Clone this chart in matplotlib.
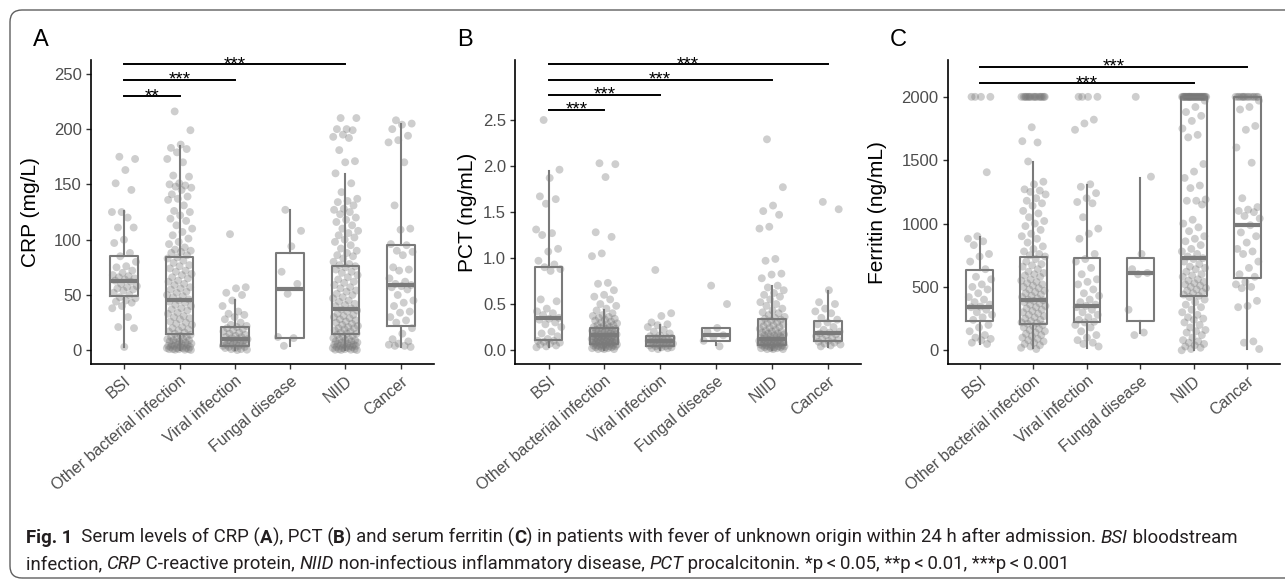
import numpy as np
import matplotlib
matplotlib.use("Agg")
import matplotlib.pyplot as plt
from matplotlib.patches import FancyBboxPatch
from matplotlib.transforms import IdentityTransform

plt.rcParams['font.family'] = ['Liberation Sans', 'DejaVu Sans']

groups = ["BSI", "Other bacterial infection", "Viral infection",
          "Fungal disease", "NIID", "Cancer"]

# ---- CRP (mg/L) ----
crp_bsi = [175, 173, 163, 151, 145, 125, 125, 120, 111, 111, 100, 97, 88, 85, 80, 76,
           75, 72, 70, 68, 67, 66, 65, 64, 63, 62, 60, 58, 57, 56, 55, 54, 52, 50, 48,
           47, 45, 44, 43, 40, 38, 30, 21, 20, 3]
crp_other = [216, 199, 186, 183, 182, 179, 173, 170, 158, 157, 151, 150, 149, 148, 147,
             145, 141, 139, 137, 136, 131, 126, 125, 122, 119, 117, 113, 110, 107, 104,
             101, 98, 96, 93, 91, 90, 89, 88, 86, 84, 83, 81, 79, 77, 76, 74, 72, 71, 69,
             68, 66, 65, 63, 62, 60, 59, 57, 56, 55, 53, 52, 50, 49, 48, 46, 45, 44, 43,
             41, 40, 38, 37, 36, 34, 33, 31, 30, 29, 28, 26, 25, 24, 23, 21, 20, 19, 18,
             17, 16, 15, 14, 13, 12, 12, 11, 10, 10, 9, 9, 8, 8, 7, 7, 6, 6, 5, 5, 5, 4, 4,
             4, 3, 3, 3, 2, 2, 2, 2, 1, 1, 1, 1, 0.5, 0.5, 0.3]
crp_viral = [105, 57, 56, 52, 50, 45, 40, 35, 33, 32, 30, 28, 25, 23, 22, 21, 20, 19, 18,
             17, 16, 15, 14, 13, 12, 12, 11, 10, 10, 9, 9, 8, 8, 7, 7, 6, 6, 5, 5, 5, 4, 4,
             3, 3, 2, 2, 1, 1, 0.5, 0.2]
crp_fungal = [127, 108, 94, 71, 60, 51, 12, 11, 4]
crp_niid = [210, 210, 200, 200, 199, 195, 193, 192, 181, 171, 170, 160, 151, 143, 137,
            135, 134, 131, 128, 127, 125, 123, 120, 118, 116, 113, 110, 108, 106, 104,
            102, 100, 98, 95, 92, 90, 88, 86, 85, 83, 80, 78, 77, 76, 75, 73, 71, 70, 68,
            66, 64, 62, 61, 59, 57, 56, 54, 53, 51, 50, 48, 47, 45, 44, 42, 41, 40, 38,
            37, 36, 35, 33, 32, 31, 30, 29, 28, 27, 26, 25, 24, 23, 22, 21, 20, 20, 19,
            18, 17, 16, 15, 15, 14, 13, 12, 11, 10, 10, 9, 9, 8, 8, 7, 7, 6, 6, 5, 5, 5,
            4, 4, 4, 3, 3, 3, 2, 2, 2, 1, 1, 1, 0.5, 0.5, 0.3, 0.2]
crp_cancer = [208, 205, 204, 200, 194, 190, 188, 170, 131, 110, 109, 96, 95, 90, 89, 86,
              75, 73, 72, 65, 62, 60, 59, 58, 57, 55, 50, 45, 43, 40, 35, 34, 30, 27, 25,
              20, 15, 10, 8, 6, 5, 4, 4, 3]
crp_q1 = [49, 14.4, 4, 10.8, 14.7, 22.2]
crp_med = [63, 45, 10, 55.6, 37.2, 59.2]
crp_q3 = [85, 84, 21, 88, 76, 95.4]
crp_lo = [3, 0, 0, 4, 0, 3]
crp_hi = [125.5, 185, 45.4, 127, 159.5, 205]

# ---- PCT (ng/mL) ----
pct_bsi = [2.50, 1.96, 1.87, 1.67, 1.64, 1.59, 1.31, 1.27, 1.25, 1.10, 1.07, 0.97, 0.93,
           0.90, 0.88, 0.86, 0.55, 0.53, 0.45, 0.42, 0.40, 0.38, 0.35, 0.34, 0.33, 0.30,
           0.28, 0.25, 0.20, 0.18, 0.15, 0.12, 0.10, 0.10, 0.09, 0.08, 0.07, 0.06, 0.05,
           0.04, 0.03]
pct_other = [2.03, 2.02, 1.88, 1.28, 1.23, 1.05, 1.02, 0.73, 0.72, 0.65, 0.60, 0.58, 0.55,
             0.50, 0.48, 0.45, 0.43, 0.40, 0.38, 0.37, 0.36, 0.35, 0.34, 0.33, 0.32, 0.31,
             0.30, 0.29, 0.28, 0.27, 0.27, 0.26, 0.25, 0.25, 0.24, 0.23, 0.23, 0.22, 0.22,
             0.21, 0.21, 0.20, 0.20, 0.19, 0.19, 0.18, 0.18, 0.17, 0.17, 0.16, 0.16, 0.16,
             0.15, 0.15, 0.15, 0.14, 0.14, 0.14, 0.13, 0.13, 0.13, 0.12, 0.12, 0.12, 0.11,
             0.11, 0.11, 0.10, 0.10, 0.10, 0.10, 0.09, 0.09, 0.09, 0.08, 0.08, 0.08, 0.08,
             0.07, 0.07, 0.07, 0.06, 0.06, 0.06, 0.05, 0.05, 0.05, 0.05, 0.04, 0.04, 0.04,
             0.03, 0.03, 0.03, 0.02, 0.02, 0.02, 0.01, 0.01, 0.01]
pct_viral = [0.87, 0.40, 0.37, 0.30, 0.28, 0.27, 0.25, 0.22, 0.20, 0.18, 0.16, 0.15, 0.14,
             0.13, 0.13, 0.12, 0.12, 0.11, 0.11, 0.10, 0.10, 0.10, 0.09, 0.09, 0.08, 0.08,
             0.07, 0.07, 0.06, 0.06, 0.05, 0.05, 0.05, 0.04, 0.04, 0.03, 0.03, 0.02, 0.02,
             0.01]
pct_fungal = [0.70, 0.50, 0.24, 0.20, 0.16, 0.14, 0.10, 0.04]
pct_niid = [2.29, 1.77, 1.57, 1.51, 1.47, 1.34, 1.32, 0.99, 0.97, 0.83, 0.82, 0.78, 0.70,
            0.68, 0.65, 0.62, 0.60, 0.58, 0.55, 0.52, 0.50, 0.48, 0.45, 0.43, 0.41, 0.40,
            0.38, 0.36, 0.35, 0.34, 0.33, 0.32, 0.31, 0.30, 0.29, 0.28, 0.27, 0.26, 0.25,
            0.24, 0.23, 0.22, 0.21, 0.20, 0.20, 0.19, 0.18, 0.18, 0.17, 0.16, 0.16, 0.15,
            0.15, 0.14, 0.14, 0.13, 0.13, 0.12, 0.12, 0.11, 0.11, 0.10, 0.10, 0.10, 0.09,
            0.09, 0.09, 0.08, 0.08, 0.08, 0.07, 0.07, 0.07, 0.06, 0.06, 0.06, 0.05, 0.05,
            0.05, 0.05, 0.04, 0.04, 0.04, 0.03, 0.03, 0.03, 0.02, 0.02, 0.02, 0.01, 0.01,
            0.01]
pct_cancer = [1.61, 1.53, 0.65, 0.52, 0.50, 0.45, 0.42, 0.40, 0.35, 0.33, 0.30, 0.28, 0.25,
              0.22, 0.20, 0.19, 0.18, 0.17, 0.16, 0.15, 0.13, 0.12, 0.11, 0.10, 0.09, 0.08,
              0.07, 0.06, 0.05, 0.04]
pct_q1 = [0.105, 0.07, 0.045, 0.10, 0.05, 0.10]
pct_med = [0.345, 0.16, 0.10, 0.16, 0.12, 0.19]
pct_q3 = [0.905, 0.24, 0.15, 0.24, 0.335, 0.32]
pct_lo = [0.03, 0, 0, 0.05, 0, 0.03]
pct_hi = [1.95, 0.43, 0.27, 0.24, 0.70, 0.645]

# ---- Ferritin (ng/mL) ----
fer_bsi = [2000, 2000, 2000, 2000, 1405, 900, 880, 860, 830, 760, 740, 700, 640, 580, 560,
           520, 500, 480, 450, 420, 400, 380, 360, 345, 340, 320, 300, 280, 260, 240, 200,
           180, 150, 120, 100, 90, 80, 60, 50]
fer_other = [2000, 2000, 2000, 2000, 2000, 2000, 2000, 2000, 2000, 2000, 2000, 2000, 2000,
             2000, 2000, 2000, 2000, 2000, 1760, 1650, 1640, 1490, 1330, 1310, 1270, 1260,
             1250, 1230, 1200, 1180, 1160, 1140, 1100, 1080, 1050, 1020, 1000, 980, 950,
             920, 900, 880, 850, 820, 800, 780, 760, 750, 740, 720, 700, 680, 670, 660, 640,
             620, 610, 600, 590, 580, 560, 550, 540, 530, 520, 510, 500, 490, 480, 470, 460,
             450, 440, 430, 420, 410, 400, 395, 390, 380, 370, 360, 350, 340, 330, 320, 310,
             300, 290, 280, 270, 260, 250, 240, 230, 220, 215, 210, 200, 190, 180, 170, 160,
             150, 140, 130, 120, 110, 100, 90, 80, 70, 60, 50, 40, 30, 20, 10]
fer_viral = [2000, 2000, 2000, 2000, 1820, 1790, 1740, 1310, 1290, 1240, 1200, 1170, 1160,
             1050, 960, 920, 880, 760, 720, 700, 650, 600, 560, 540, 520, 480, 450, 430, 400,
             380, 360, 350, 340, 320, 300, 280, 260, 240, 225, 220, 200, 180, 150, 120, 100,
             80, 60, 50, 30]
fer_fungal = [2000, 1370, 760, 640, 610, 600, 320, 140, 120]
fer_niid = [2000, 2000, 2000, 2000, 2000, 2000, 2000, 2000, 2000, 2000, 2000, 2000, 2000,
            2000, 2000, 2000, 2000, 2000, 2000, 2000, 2000, 2000, 2000, 2000, 2000, 2000,
            2000, 2000, 2000, 2000, 2000, 2000, 2000, 2000, 2000, 1970, 1920, 1880, 1850,
            1810, 1750, 1700, 1680, 1470, 1410, 1360, 1300, 1280, 1190, 1180, 1180, 1150,
            1030, 1000, 970, 940, 900, 880, 860, 830, 800, 780, 760, 740, 727, 720, 700, 680,
            660, 650, 640, 620, 600, 590, 580, 560, 550, 540, 530, 520, 510, 500, 490, 480,
            470, 460, 450, 440, 430, 420, 400, 380, 360, 340, 320, 300, 280, 260, 250, 240,
            220, 200, 180, 160, 150, 140, 120, 100, 80, 70, 60, 50, 40, 30, 20, 10, 0]
fer_cancer = [2000, 2000, 2000, 2000, 2000, 2000, 2000, 2000, 2000, 2000, 2000, 2000, 2000,
              2000, 1970, 1920, 1900, 1770, 1740, 1600, 1480, 1200, 1130, 1110, 1100, 1090,
              1060, 1040, 987, 930, 900, 850, 800, 780, 760, 700, 650, 600, 580, 540, 520,
              500, 490, 390, 350, 340, 70, 60, 10]
fer_q1 = [235, 211, 221, 229, 427, 574]
fer_med = [342, 395, 350, 611, 727, 987]
fer_q3 = [632, 740, 727, 727, 2000, 2000]
fer_lo = [53, 16, 21, 137, 0, 13]
fer_hi = [895, 1489, 1307, 1361, 2000, 2000]

# significance brackets: (group a, group b, height, label)
crp_sig = [(1, 2, 229.7, "**"), (1, 3, 244.4, "***"), (1, 5, 258.6, "***")]
pct_sig = [(1, 2, 2.609, "***"), (1, 3, 2.775, "***"), (1, 5, 2.935, "***"),
           (1, 6, 3.105, "***")]
fer_sig = [(1, 5, 2107, "***"), (1, 6, 2238, "***")]

W, H = 1285, 580
fig = plt.figure(figsize=(W / 100, H / 100), dpi=100)

GRAY = "#7a7a7a"


def panel(rect, letter, ylabel, points, q1, med, q3, lo, hi, sig, ylim, yticks, tickfmt, labelx):
    ax = fig.add_axes([rect[0] / W, (H - rect[3]) / H, (rect[2] - rect[0]) / W,
                       (rect[3] - rect[1]) / H])
    pos = np.arange(1, 7)
    for i, vals in enumerate(points):
        vals = np.asarray(vals, dtype=float)
        n = len(vals)
        # deterministic jitter (golden-ratio sequence)
        off = ((np.arange(n) * 0.6180339887 + 0.31) % 1.0 - 0.5) * 0.46
        ax.scatter(pos[i] + off, vals, s=32, color="#777777", alpha=0.36,
                   edgecolors="none", zorder=2)
    stats = [dict(med=med[i], q1=q1[i], q3=q3[i], whislo=lo[i], whishi=hi[i], fliers=[])
             for i in range(6)]
    ax.bxp(stats, positions=pos, widths=0.5, showcaps=False, showfliers=False,
           boxprops=dict(color=GRAY, linewidth=1.5),
           whiskerprops=dict(color=GRAY, linewidth=1.5),
           medianprops=dict(color=GRAY, linewidth=3.0), manage_ticks=False, zorder=3)
    for a, b, y, lab in sig:
        ax.plot([a, b], [y, y], color="black", lw=1.4, clip_on=False, zorder=4)
        ax.annotate(lab, xy=((a + b) / 2, y), xytext=(0, -3.5), textcoords="offset points",
                    ha="center", va="baseline", fontsize=13.5, annotation_clip=False)
    ax.set_xlim(0.4, 6.6)
    ax.set_ylim(*ylim)
    ax.set_yticks(yticks)
    ax.set_yticklabels([tickfmt.format(v) for v in yticks])
    ax.set_xticks(pos)
    ax.set_xticklabels(groups, rotation=40, ha="right", va="top", rotation_mode="anchor",
                       fontsize=11.5)
    for s in ["top", "right"]:
        ax.spines[s].set_visible(False)
    for s in ["left", "bottom"]:
        ax.spines[s].set_linewidth(1.2)
        ax.spines[s].set_color("black")
    ax.tick_params(axis="both", colors="#333333", length=3.5, width=1.0,
                   labelcolor="#4d4d4d", pad=3)
    ax.tick_params(axis="y", labelsize=12)
    ax.set_ylabel(ylabel, fontsize=15, color="black")
    ax.yaxis.set_label_coords(labelx, 0.5)
    fig.text(rect[0] / W - 0.045, (H - 40) / H, letter, fontsize=17, ha="left",
             va="center", color="black")
    return ax


panel((91, 60, 434, 364.3), "A", "CRP (mg/L)",
      [crp_bsi, crp_other, crp_viral, crp_fungal, crp_niid, crp_cancer],
      crp_q1, crp_med, crp_q3, crp_lo, crp_hi, crp_sig,
      (-12.7, 262.5), [0, 50, 100, 150, 200, 250], "{:.0f}", -0.149)
panel((515, 60, 861.2, 364.3), "B", "PCT (ng/mL)",
      [pct_bsi, pct_other, pct_viral, pct_fungal, pct_niid, pct_cancer],
      pct_q1, pct_med, pct_q3, pct_lo, pct_hi, pct_sig,
      (-0.155, 3.152), [0.0, 0.5, 1.0, 1.5, 2.0, 2.5], "{:.1f}", -0.11)
panel((947.7, 60, 1279.6, 364.3), "C", "Ferritin (ng/mL)",
      [fer_bsi, fer_other, fer_viral, fer_fungal, fer_niid, fer_cancer],
      fer_q1, fer_med, fer_q3, fer_lo, fer_hi, fer_sig,
      (-110.6, 2290.7), [0, 500, 1000, 1500, 2000], "{:.0f}", -0.183)

# rounded frame around the figure
frame = FancyBboxPatch((10, 2), 1290, 568, boxstyle="round,pad=0,rounding_size=12",
                       transform=IdentityTransform(), fill=False, edgecolor="#5f5f5f",
                       linewidth=1.0)
fig.patches.append(frame)

# caption
cap_font = ["Roboto", "DejaVu Sans"]
cap_color = "#231f20"
line1 = [("Fig. 1", "bold", "normal"), ("  Serum levels of CRP (", "normal", "normal"),
         ("A", "bold", "normal"), ("), PCT (", "normal", "normal"), ("B", "bold", "normal"),
         (") and serum ferritin (", "normal", "normal"), ("C", "bold", "normal"),
         (") in patients with fever of unknown origin within 24 h after admission. ",
          "normal", "normal"),
         ("BSI", "normal", "italic"), (" bloodstream", "normal", "normal")]
line2 = [("infection, ", "normal", "normal"), ("CRP", "normal", "italic"),
         (" C-reactive protein, ", "normal", "normal"), ("NIID", "normal", "italic"),
         (" non-infectious inflammatory disease, ", "normal", "normal"),
         ("PCT", "normal", "italic"),
         (" procalcitonin. *p\u2009<\u20090.05, **p\u2009<\u20090.01, ***p\u2009<\u20090.001",
          "normal", "normal")]

renderer = fig.canvas.get_renderer()


def run_width(s, size, weight, style):
    kw = dict(fontsize=size, fontweight=weight, fontstyle=style, family=cap_font)
    t = fig.text(0, 0, s + "|", **kw)
    w1 = t.get_window_extent(renderer).width
    t.remove()
    t = fig.text(0, 0, "|", **kw)
    w0 = t.get_window_extent(renderer).width
    t.remove()
    return w1 - w0


base = 10.0
w = sum(run_width(s, base, wt, st) for s, wt, st in line1)
cap_size = base * (1245 - 26) / w


def draw_line(runs, x, ybase):
    for s, wt, st in runs:
        fig.text(x, H - ybase, s, transform=IdentityTransform(), fontsize=cap_size,
                 fontweight=wt, fontstyle=st, family=cap_font, color=cap_color,
                 va="baseline", ha="left")
        x += run_width(s, cap_size, wt, st)


draw_line(line1, 26, 543)
draw_line(line2, 26, 569)

fig.savefig("out.png", dpi=100)
